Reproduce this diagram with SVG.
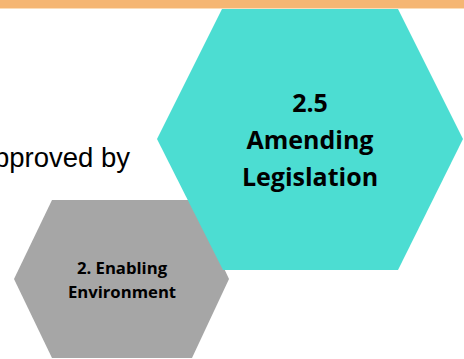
<svg xmlns="http://www.w3.org/2000/svg" width="464" height="359" viewBox="0 0 464 359">
  <style>
    .hex-teal { fill: #4CDDD2; }
    .hex-gray { fill: #A6A6A6; }
    .lbl { font-family: "Open Sans", "Liberation Sans", sans-serif; font-weight: 700; fill: #000; text-anchor: middle; }
    .big { font-size: 25px; }
    .small { font-size: 16.7px; }
    .body { font-family: "Liberation Sans", Arial, sans-serif; font-size: 27.5px; fill: #000; }
  </style>
  <rect width="464" height="359" fill="#FFFFFF"/>
  <g id="banner">
    <rect x="0" y="0" width="464" height="8" fill="#F5B673"/>
    <rect x="0" y="8" width="464" height="1" fill="#FBDDB9"/>
  </g>
  <g id="caption">
    <text class="body" x="-6" y="167">pproved by</text>
  </g>
  <g id="connectors"></g>
  <g id="node-enabling-environment">
    <polygon class="hex-gray" points="52,200 192,200 229,279 192,358 52,358 14,279"/>
    <text class="lbl small" x="122" y="274">2. Enabling</text>
    <text class="lbl small" x="122" y="298">Environment</text>
  </g>
  <g id="node-amending-legislation">
    <polygon class="hex-teal" points="222,9 398,9 463,139 398,270 223,270 157,139"/>
    <text class="lbl big" x="310" y="112">2.5</text>
    <text class="lbl big" x="310" y="149">Amending</text>
    <text class="lbl big" x="310" y="186">Legislation</text>
  </g>
</svg>
